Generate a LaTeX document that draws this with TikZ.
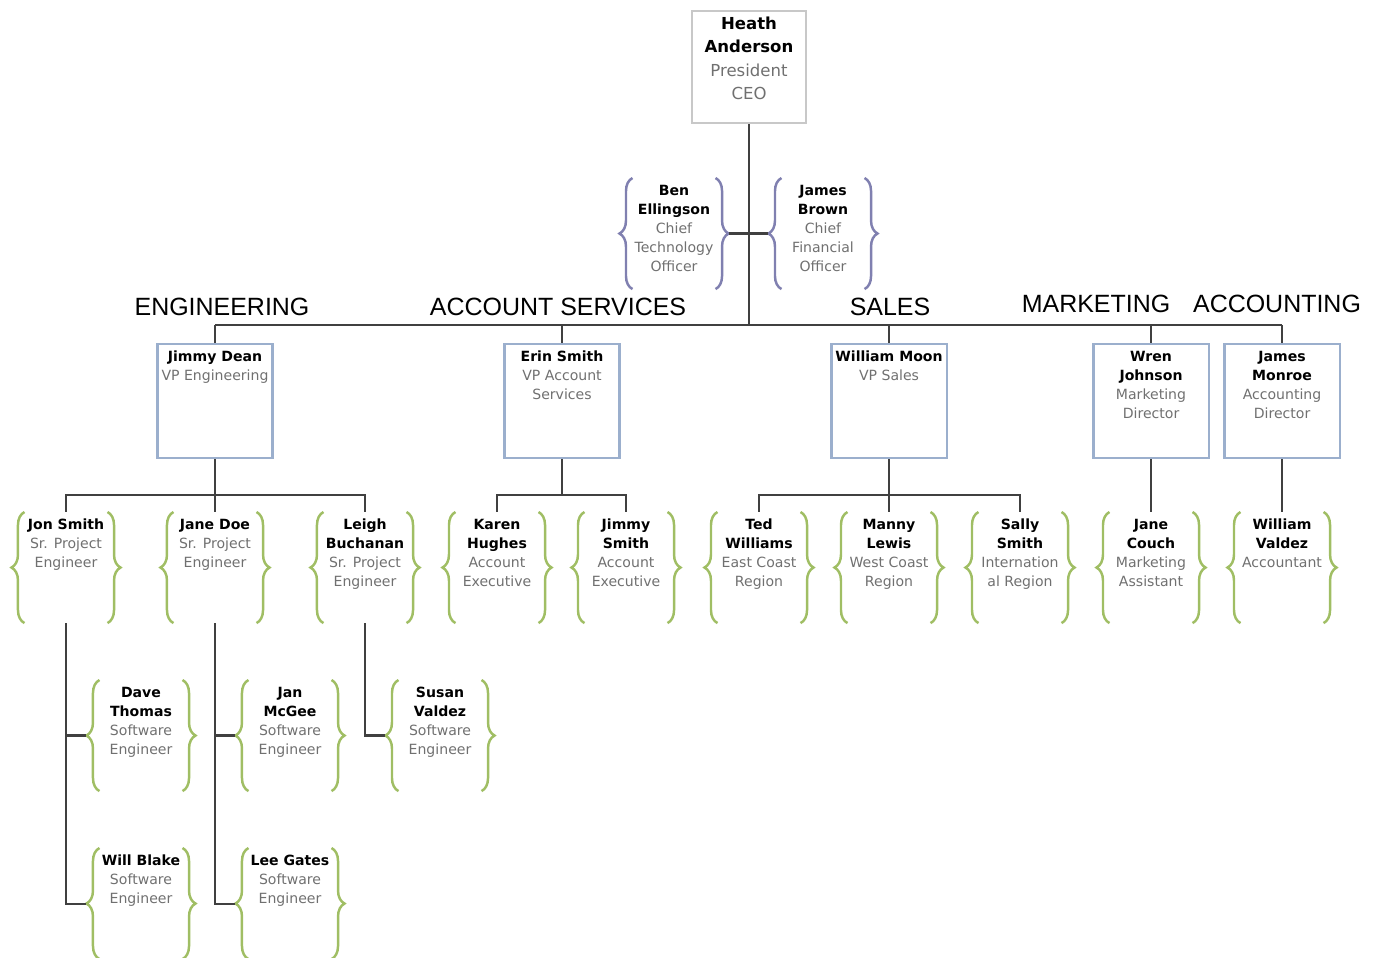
\documentclass[tikz,border=0pt]{standalone}
\usepackage{fontspec}
\setmainfont{DejaVu Sans}
\newfontfamily\deptfont{Liberation Sans}
\usetikzlibrary{decorations.pathreplacing}

\begin{document}
\begin{tikzpicture}[x=0.01cm,y=-0.01cm]

	\useasboundingbox (0,0) rectangle (1377,957);

	\definecolor{LineGray}{RGB}{64,64,64}
	\definecolor{TitleGray}{RGB}{112,112,112}
	\definecolor{BoxBlue}{RGB}{155,175,205}
	\definecolor{CeoGray}{RGB}{200,200,200}
	\definecolor{BraceGreen}{RGB}{160,190,100}
	\definecolor{BracePurple}{RGB}{128,128,176}

	\newcommand{\orgName}[1]{\textcolor{black}{\textbf{#1}}}

	\tikzset{
		orgLine/.style={
			draw=LineGray,
			line width=0.6pt,
		},
		orgText/.style={
			text=TitleGray,
			inner xsep=0pt,
			inner ysep=0.07cm,
			anchor=north,
			font=\fontsize{4}{5.4}\selectfont,
		},
		orgStaff/.style={
			orgText,
			outer xsep=0.13cm,
			outer ysep=0pt,
			execute at begin node={\begin{minipage}[t][0.97cm][t]{0.83cm}\centering},
			execute at end node={\end{minipage}},
		},
		orgBox/.style={
			orgText,
			draw=BoxBlue,
			line width=0.6pt,
			execute at begin node={\begin{minipage}[t][1.0cm][t]{1.15cm}\centering},
			execute at end node={\end{minipage}},
		},
		orgCeo/.style={
			orgText,
			draw=CeoGray,
			line width=0.6pt,
			inner ysep=0.06cm,
			font=\fontsize{4.7}{6.6}\selectfont,
			execute at begin node={\begin{minipage}[t][1.0cm][t]{1.14cm}\centering},
			execute at end node={\end{minipage}},
		},
		orgDept/.style={
			font=\deptfont\fontsize{7.1}{8}\selectfont,
			inner sep=0pt,
		},
		greenBrace/.style={
			draw=BraceGreen,
			line width=0.7pt,
			decorate,
			decoration={brace,amplitude=0.13cm,raise=-0.13cm},
		},
		purpleBrace/.style={
			greenBrace,
			draw=BracePurple,
		},
	}

	% President
	\node[orgCeo] (ceo) at (749,10) {\orgName{Heath}\\\orgName{Anderson}\\President\\CEO};

	% Staff officers
	\node[orgStaff] (cto) at (674,178) {\orgName{Ben}\\\orgName{Ellingson}\\Chief\\Technology\\Officer};
	\node[orgStaff] (cfo) at (823,178) {\orgName{James}\\\orgName{Brown}\\Chief\\Financial\\Officer};

	% Departments
	\node[orgDept] (deng) at (222,307) {ENGINEERING};
	\node[orgDept] (dacct) at (558,307) {ACCOUNT SERVICES};
	\node[orgDept] (dsales) at (890,307) {SALES};
	\node[orgDept] (dmkt) at (1096,304) {MARKETING};
	\node[orgDept] (dacc) at (1277,304) {ACCOUNTING};

	% Directors
	\node[orgBox] (vpeng) at (215,343) {\orgName{Jimmy Dean}\\VP Engineering};
	\node[orgBox] (vpacct) at (562,343) {\orgName{Erin Smith}\\VP Account\\Services};
	\node[orgBox] (vpsales) at (889,343) {\orgName{William Moon}\\VP Sales};
	\node[orgBox] (vpmkt) at (1151,343) {\orgName{Wren}\\\orgName{Johnson}\\Marketing\\Director};
	\node[orgBox] (vpacc) at (1282,343) {\orgName{James}\\\orgName{Monroe}\\Accounting\\Director};

	% Staff
	\node[orgStaff] (jsmith) at (66,512) {\orgName{Jon Smith}\\Sr. Project\\Engineer};
	\node[orgStaff] (jdoe) at (215,512) {\orgName{Jane Doe}\\Sr. Project\\Engineer};
	\node[orgStaff] (lbuch) at (365,512) {\orgName{Leigh}\\\orgName{Buchanan}\\Sr. Project\\Engineer};
	\node[orgStaff] (khughes) at (497,512) {\orgName{Karen}\\\orgName{Hughes}\\Account\\Executive};
	\node[orgStaff] (jmsmith) at (626,512) {\orgName{Jimmy}\\\orgName{Smith}\\Account\\Executive};
	\node[orgStaff] (twill) at (759,512) {\orgName{Ted}\\\orgName{Williams}\\East Coast\\Region};
	\node[orgStaff] (mlewis) at (889,512) {\orgName{Manny}\\\orgName{Lewis}\\West Coast\\Region};
	\node[orgStaff] (ssmith) at (1020,512) {\orgName{Sally}\\\orgName{Smith}\\Internation\\al Region};
	\node[orgStaff] (jcouch) at (1151,512) {\orgName{Jane}\\\orgName{Couch}\\Marketing\\Assistant};
	\node[orgStaff] (wvaldez) at (1282,512) {\orgName{William}\\\orgName{Valdez}\\Accountant};

	% Engineers
	\node[orgStaff] (dthomas) at (141,680) {\orgName{Dave}\\\orgName{Thomas}\\Software\\Engineer};
	\node[orgStaff] (jmcgee) at (290,680) {\orgName{Jan}\\\orgName{McGee}\\Software\\Engineer};
	\node[orgStaff] (svaldez) at (440,680) {\orgName{Susan}\\\orgName{Valdez}\\Software\\Engineer};
	\node[orgStaff] (wblake) at (141,848) {\orgName{Will Blake}\\Software\\Engineer};
	\node[orgStaff] (lgates) at (290,848) {\orgName{Lee Gates}\\Software\\Engineer};

	% Braces
	\foreach \n in {cto,cfo} {
		\draw[purpleBrace] (\n.south west) -- (\n.north west);
		\draw[purpleBrace] (\n.north east) -- (\n.south east);
	}
	\foreach \n in {jsmith,jdoe,lbuch,khughes,jmsmith,twill,mlewis,ssmith,jcouch,wvaldez,dthomas,jmcgee,svaldez,wblake,lgates} {
		\draw[greenBrace] (\n.south west) -- (\n.north west);
		\draw[greenBrace] (\n.north east) -- (\n.south east);
	}

	% Lines
	\coordinate (topbus) at (0,325);
	\draw[orgLine] (ceo.south) -- (ceo.south |- topbus);
	\draw[orgLine] (cto.east) -- (cfo.west);
	\draw[orgLine] (vpeng.north |- topbus) -- (vpacc.north |- topbus);
	\foreach \v in {vpeng,vpacct,vpsales,vpmkt,vpacc}
		\draw[orgLine] (\v.north |- topbus) -- (\v.north);

	\draw[orgLine] (vpeng.south) -- ++(0,36) -| (jsmith.north);
	\draw[orgLine] (vpeng.south) -- ++(0,36) -| (lbuch.north);
	\draw[orgLine] (vpeng.south) -- (jdoe.north);
	\draw[orgLine] (vpacct.south) -- ++(0,36) -| (khughes.north);
	\draw[orgLine] (vpacct.south) -- ++(0,36) -| (jmsmith.north);
	\draw[orgLine] (vpsales.south) -- ++(0,36) -| (twill.north);
	\draw[orgLine] (vpsales.south) -- ++(0,36) -| (ssmith.north);
	\draw[orgLine] (vpsales.south) -- (mlewis.north);
	\draw[orgLine] (vpmkt.south) -- (jcouch.north);
	\draw[orgLine] (vpacc.south) -- (wvaldez.north);

	\draw[orgLine] (jsmith.south) |- (dthomas.west);
	\draw[orgLine] (jsmith.south) |- (wblake.west);
	\draw[orgLine] (jdoe.south) |- (jmcgee.west);
	\draw[orgLine] (jdoe.south) |- (lgates.west);
	\draw[orgLine] (lbuch.south) |- (svaldez.west);

\end{tikzpicture}
\end{document}
